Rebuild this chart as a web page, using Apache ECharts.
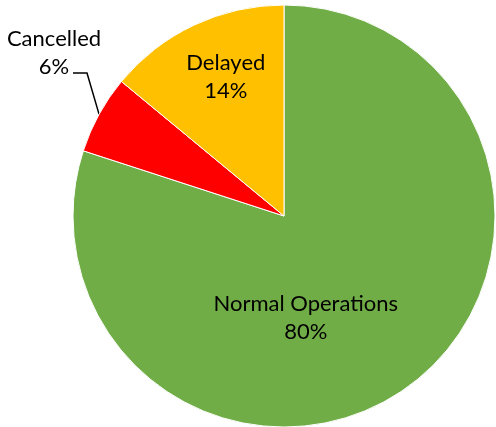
<!DOCTYPE html>
<html>
<head>
<meta charset="utf-8">
<script src="https://cdn.jsdelivr.net/npm/echarts@6/dist/echarts.min.js"></script>
<style>
    html, body { margin: 0; padding: 0; background: #fff; }
    #chart { width: 496px; height: 427px; }
</style>
</head>
<body>
<div id="chart"></div>
<script>
    // data
    var categories = ['Normal Operations', 'Cancelled', 'Delayed'];
    var values = [80, 6, 14];
    var colors = ['#70AD47', '#FF0000', '#FFC000'];

    var chart = echarts.init(document.getElementById('chart'));
    var seriesData = categories.map(function (name, i) {
        var item = { name: name, value: values[i], itemStyle: { color: colors[i] } };
        if (name === 'Cancelled') {
            item.label = { position: 'outside', overflow: 'none' };
            item.labelLine = { show: true };
        }
        return item;
    });

    var option = {
        animation: false,
        series: [
            {
                type: 'pie',
                center: [284, 216],
                radius: 211,
                startAngle: 90,
                clockwise: true,
                itemStyle: { borderColor: '#fff', borderWidth: 1 },
                label: {
                    show: true,
                    position: 'inside',
                    formatter: '{b}\n{d}%',
                    fontFamily: 'Lato',
                    fontSize: 22,
                    lineHeight: 28,
                    color: '#000',
                    align: 'center'
                },
                labelLine: {
                    show: false,
                    length: 10,
                    length2: 8,
                    lineStyle: { color: '#000', width: 1.5 }
                },
                labelLayout: function (p) {
                    // move labels to where the original places them
                    if (p.dataIndex === 0) return { dx: -42, dy: 14 };
                    if (p.dataIndex === 2) return { dx: -12, dy: -41 };
                    if (p.dataIndex === 1) {
                        var x = 54, y = 53;
                        var end = [x + 19, y + 20];
                        var pts = p.labelLinePoints;
                        var start = pts ? pts[0] : [98, 120];
                        return {
                            x: x, y: y, align: 'center', verticalAlign: 'middle',
                            labelLinePoints: [start, [end[0] + 14, end[1]], end]
                        };
                    }
                },
                data: seriesData
            }
        ]
    };
    chart.setOption(option);
</script>
</body>
</html>
